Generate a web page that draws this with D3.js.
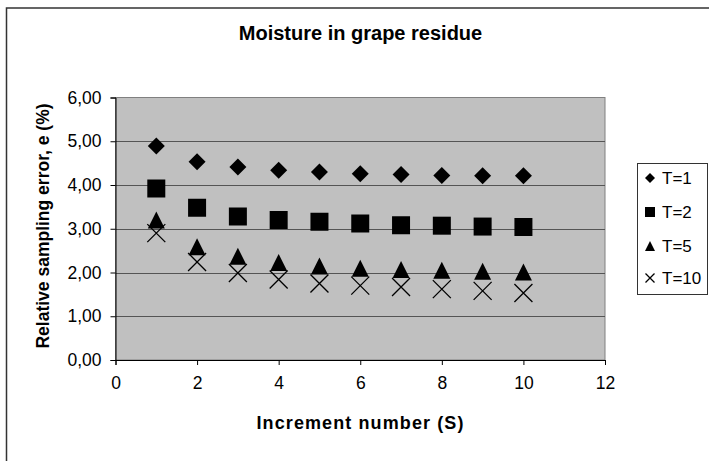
<!DOCTYPE html>
<html>
<head>
<meta charset="utf-8">
<script src="https://cdn.jsdelivr.net/npm/d3@7"></script>
<style>
  html, body { margin: 0; padding: 0; background: #fff; }
  svg { display: block; }
  text { font-family: "Liberation Sans", Arial, sans-serif; fill: #000; }
</style>
</head>
<body>
<svg id="chart" width="709" height="461"></svg>
<script>
// Increment numbers S
const increments = [1, 2, 3, 4, 5, 6, 7, 8, 9, 10];
// Relative sampling error e (%) for each T
const seriesT1  = [4.89, 4.53, 4.41, 4.34, 4.30, 4.26, 4.24, 4.22, 4.21, 4.21];
const seriesT2  = [3.92, 3.48, 3.28, 3.20, 3.16, 3.12, 3.08, 3.07, 3.05, 3.04];
const seriesT5  = [3.20, 2.59, 2.37, 2.23, 2.15, 2.10, 2.07, 2.05, 2.03, 2.01];
const seriesT10 = [2.90, 2.24, 1.99, 1.84, 1.75, 1.70, 1.67, 1.62, 1.58, 1.53];
const seriesNames = ["T=1", "T=2", "T=5", "T=10"];
const xTicks = [0, 2, 4, 6, 8, 10, 12];
const yTicks = [0, 1, 2, 3, 4, 5, 6];

const svg = d3.select("#chart");

// outer chart frame (left and top edges visible)
svg.append("path")
  .attr("d", "M6.5,461 V8 H709")
  .attr("fill", "none").attr("stroke", "#333").attr("stroke-width", 1.5);

const plot = { left: 115.5, top: 97.5, right: 605, bottom: 360 };
const x = d3.scaleLinear().domain([0, 12]).range([plot.left, plot.right]);
const y = d3.scaleLinear().domain([0, 6]).range([plot.bottom, plot.top]);

// plot area
svg.append("rect")
  .attr("x", plot.left).attr("y", plot.top)
  .attr("width", plot.right - plot.left).attr("height", plot.bottom - plot.top)
  .attr("fill", "#c0c0c0").attr("stroke", "#808080").attr("stroke-width", 1);

// horizontal gridlines
svg.append("g").selectAll("line")
  .data(yTicks.filter(d => d > 0 && d < 6))
  .join("line")
  .attr("x1", plot.left).attr("x2", plot.right)
  .attr("y1", d => Math.round(y(d)) + 0.5).attr("y2", d => Math.round(y(d)) + 0.5)
  .attr("stroke", "#555").attr("stroke-width", 1);

const fmt = d => d3.format(".2f")(d).replace(".", ",");

// y axis
const yAxis = svg.append("g")
  .attr("transform", `translate(${plot.left},0)`)
  .call(d3.axisLeft(y).tickValues(yTicks).tickFormat(fmt).tickSize(5).tickPadding(9));
yAxis.select(".domain").attr("stroke", "#000");
yAxis.selectAll(".tick line").attr("stroke", "#000");
yAxis.selectAll("text").style("font-size", "17.5px").style("font-family", "Liberation Sans, Arial, sans-serif");

// x axis
const xAxis = svg.append("g")
  .attr("transform", `translate(0,${plot.bottom})`)
  .call(d3.axisBottom(x).tickValues(xTicks).tickFormat(d3.format("d")).tickSize(5).tickPadding(12));
xAxis.select(".domain").attr("stroke", "#000");
xAxis.selectAll(".tick line").attr("stroke", "#000");
xAxis.selectAll("text").style("font-size", "17.5px").style("font-family", "Liberation Sans, Arial, sans-serif");

// titles
svg.append("text").attr("x", 360.5).attr("y", 40).attr("text-anchor", "middle")
  .style("font-size", "20px").style("font-weight", "bold").text("Moisture in grape residue");
svg.append("text").attr("x", 360.5).attr("y", 429).attr("text-anchor", "middle")
  .style("font-size", "18px").style("font-weight", "bold").style("letter-spacing", "1.1px")
  .text("Increment number (S)");
svg.append("text").attr("transform", "translate(48.5,226) rotate(-90)").attr("text-anchor", "middle")
  .style("font-size", "17.5px").style("font-weight", "bold").text("Relative sampling error, e (%)");

// marker shapes
const markers = [
  { name: seriesNames[0], values: seriesT1,  draw: (g, s) => g.append("path").attr("d", `M0,${-s} L${s},0 L0,${s} L${-s},0Z`).attr("fill", "#000") },
  { name: seriesNames[1], values: seriesT2,  draw: (g, s) => g.append("rect").attr("x", -s).attr("y", -s).attr("width", 2 * s).attr("height", 2 * s).attr("fill", "#000") },
  { name: seriesNames[2], values: seriesT5,  draw: (g, s) => g.append("path").attr("d", `M0,${-s} L${s},${s} L${-s},${s}Z`).attr("fill", "#000") },
  { name: seriesNames[3], values: seriesT10, draw: (g, s) => g.append("path").attr("d", `M${-s},${-s} L${s},${s} M${s},${-s} L${-s},${s}`).attr("stroke", "#000").attr("stroke-width", 1.3).attr("fill", "none") }
];
const plotSize = [8.5, 9, 8.5, 9];

// draw series (lower series first so the crosses sit over the triangles)
markers.slice().reverse().forEach((m, ri) => {
  const i = markers.length - 1 - ri;
  increments.forEach((s, k) => {
    const g = svg.append("g").attr("transform", `translate(${x(s)},${y(m.values[k])})`);
    m.draw(g, plotSize[i]);
  });
});

// legend
svg.append("rect").attr("x", 637.5).attr("y", 163.5).attr("width", 70).attr("height", 131)
  .attr("fill", "#fff").attr("stroke", "#333").attr("stroke-width", 1);
const legendY = [178, 212, 246, 278];
const legendSize = [5, 5, 5, 4.5];
markers.forEach((m, i) => {
  const g = svg.append("g").attr("transform", `translate(650,${legendY[i]})`);
  m.draw(g, legendSize[i]);
  svg.append("text").attr("x", 662).attr("y", legendY[i] + 6)
    .style("font-size", "17px").text(m.name);
});
</script>
</body>
</html>
